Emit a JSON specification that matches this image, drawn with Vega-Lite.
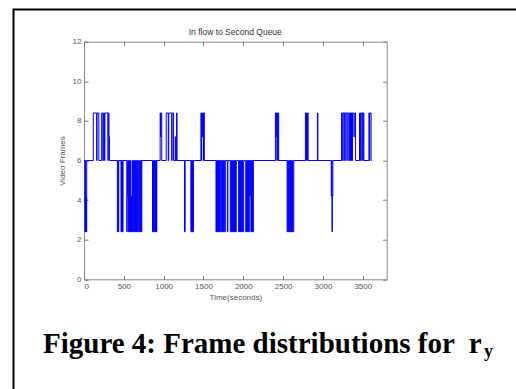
{
  "$schema": "https://vega.github.io/schema/vega-lite/v6.json",
  "width": 302.7,
  "height": 237.6,
  "autosize": "none",
  "padding": {"left": 84, "top": 41.7, "right": 129.3, "bottom": 109.7},
  "background": "white",
  "config": {
    "view": {"stroke": "#888888", "strokeWidth": 1},
    "axis": {"labelFont": "Liberation Sans", "labelFontSize": 8, "labelColor": "#555555", "tickColor": "#777777", "domainColor": "#888888", "grid": false, "tickSize": -4, "labelPadding": 7, "titleFont": "Liberation Sans", "titleFontSize": 8, "titleFontWeight": "normal", "titleColor": "#555555", "format": "d"}
  },
  "layer": [
    {
      "data": {"values": [
        {"t":0,"v":6},{"t":12,"v":2.4},{"t":16,"v":6},{"t":20,"v":2.4},{"t":24,"v":4.2},{"t":28,"v":2.4},{"t":34,"v":6},
        {"t":117,"v":8.4},{"t":158,"v":6},{"t":164,"v":8.4},{"t":186,"v":6},
        {"t":222,"v":8.4},{"t":236,"v":6},{"t":246,"v":8.4},{"t":258,"v":6},{"t":262,"v":8.4},{"t":300,"v":6},{"t":304,"v":8.4},{"t":314,"v":7.2},{"t":320,"v":6},
        {"t":419,"v":2.4},{"t":424,"v":6},{"t":428,"v":2.4},{"t":436,"v":6},
        {"t":465,"v":2.4},{"t":470,"v":6},{"t":474,"v":2.4},{"t":480,"v":6},{"t":484,"v":2.4},{"t":490,"v":6},
        {"t":537,"v":2.4},{"t":542,"v":4.2},{"t":547,"v":6},
        {"t":558,"v":2.4},{"t":566,"v":6},{"t":572,"v":2.4},{"t":580,"v":6},{"t":586,"v":2.4},{"t":592,"v":4.2},{"t":596,"v":2.4},{"t":604,"v":6},{"t":610,"v":2.4},{"t":618,"v":6},{"t":624,"v":2.4},{"t":632,"v":6},{"t":638,"v":2.4},{"t":646,"v":6},{"t":652,"v":2.4},{"t":660,"v":6},{"t":666,"v":2.4},{"t":674,"v":6},{"t":680,"v":2.4},{"t":688,"v":6},{"t":694,"v":2.4},{"t":702,"v":6},{"t":708,"v":2.4},{"t":716,"v":6},{"t":720,"v":2.4},{"t":726,"v":6},
        {"t":860,"v":2.4},{"t":866,"v":6},{"t":872,"v":2.4},{"t":880,"v":6},{"t":886,"v":2.4},{"t":894,"v":6},{"t":900,"v":2.4},{"t":908,"v":6},{"t":910,"v":2.4},{"t":914,"v":6},
        {"t":956,"v":8.4},{"t":962,"v":7.2},{"t":966,"v":8.4},{"t":976,"v":6},
        {"t":1032,"v":8.4},{"t":1058,"v":6},{"t":1064,"v":8.4},{"t":1100,"v":6},{"t":1106,"v":8.4},{"t":1124,"v":6},{"t":1145,"v":7.2},{"t":1150,"v":6},{"t":1162,"v":8.4},{"t":1168,"v":6},
        {"t":1262,"v":2.4},{"t":1270,"v":6},
        {"t":1342,"v":2.4},{"t":1348,"v":6},{"t":1352,"v":2.4},{"t":1360,"v":6},{"t":1364,"v":2.4},{"t":1375,"v":6},
        {"t":1468,"v":8.4},{"t":1474,"v":6},{"t":1478,"v":8.4},{"t":1484,"v":7.2},{"t":1490,"v":8.4},{"t":1500,"v":6},{"t":1504,"v":8.4},{"t":1510,"v":6},
        {"t":1657,"v":2.4},{"t":1663,"v":6},{"t":1668,"v":2.4},{"t":1675,"v":6},{"t":1680,"v":2.4},{"t":1688,"v":6},{"t":1693,"v":2.4},{"t":1700,"v":6},{"t":1704,"v":2.4},{"t":1711,"v":6},
        {"t":1723,"v":2.4},{"t":1730,"v":6},{"t":1736,"v":2.4},{"t":1744,"v":6},{"t":1750,"v":2.4},{"t":1758,"v":6},{"t":1762,"v":2.4},{"t":1774,"v":6},
        {"t":1800,"v":2.4},{"t":1806,"v":6},
        {"t":1837,"v":2.4},{"t":1845,"v":6},{"t":1850,"v":2.4},{"t":1858,"v":6},{"t":1863,"v":2.4},{"t":1871,"v":6},{"t":1876,"v":2.4},{"t":1884,"v":6},{"t":1889,"v":2.4},{"t":1897,"v":6},{"t":1902,"v":2.4},{"t":1912,"v":6},
        {"t":1941,"v":2.4},{"t":1949,"v":6},{"t":1954,"v":2.4},{"t":1962,"v":6},{"t":1967,"v":2.4},{"t":1975,"v":6},{"t":1980,"v":2.4},{"t":1988,"v":6},{"t":1993,"v":2.4},{"t":2004,"v":6},
        {"t":2030,"v":2.4},{"t":2038,"v":6},{"t":2043,"v":2.4},{"t":2051,"v":6},{"t":2056,"v":2.4},{"t":2064,"v":6},{"t":2068,"v":2.4},{"t":2075,"v":6},{"t":2082,"v":4.2},{"t":2088,"v":6},{"t":2095,"v":2.4},{"t":2103,"v":6},{"t":2108,"v":2.4},{"t":2116,"v":6},{"t":2120,"v":2.4},{"t":2126,"v":6},
        {"t":2403,"v":8.4},{"t":2410,"v":7.2},{"t":2414,"v":8.4},{"t":2422,"v":6},{"t":2426,"v":8.4},{"t":2434,"v":6},{"t":2438,"v":8.4},{"t":2444,"v":6},
        {"t":2550,"v":2.4},{"t":2558,"v":6},{"t":2562,"v":2.4},{"t":2570,"v":6},{"t":2574,"v":2.4},{"t":2582,"v":6},{"t":2586,"v":2.4},{"t":2594,"v":6},{"t":2598,"v":2.4},{"t":2606,"v":6},{"t":2610,"v":2.4},{"t":2618,"v":6},{"t":2622,"v":2.4},{"t":2633,"v":6},
        {"t":2780,"v":8.4},{"t":2788,"v":6},{"t":2792,"v":8.4},{"t":2800,"v":6},{"t":2804,"v":8.4},{"t":2814,"v":6},
        {"t":2930,"v":8.4},{"t":2936,"v":6},
        {"t":3104,"v":4.2},{"t":3109,"v":6},{"t":3113,"v":2.4},{"t":3118,"v":4.2},{"t":3124,"v":6},
        {"t":3233,"v":8.4},{"t":3238,"v":6},{"t":3242,"v":8.4},{"t":3262,"v":6},{"t":3266,"v":8.4},{"t":3275,"v":6},{"t":3279,"v":8.4},{"t":3300,"v":6},{"t":3304,"v":8.4},{"t":3325,"v":6},{"t":3329,"v":8.4},{"t":3336,"v":6},{"t":3340,"v":8.4},{"t":3346,"v":6},{"t":3350,"v":8.4},{"t":3358,"v":6},{"t":3362,"v":8.4},{"t":3367,"v":6},{"t":3371,"v":8.4},{"t":3388,"v":7.2},{"t":3400,"v":8.4},{"t":3409,"v":6},
        {"t":3459,"v":8.4},{"t":3466,"v":6},{"t":3470,"v":8.4},{"t":3488,"v":6},{"t":3492,"v":8.4},{"t":3502,"v":6},{"t":3506,"v":8.4},{"t":3514,"v":6},
        {"t":3577,"v":8.4},{"t":3584,"v":6},{"t":3588,"v":8.4},{"t":3604,"v":6},{"t":3611,"v":6}
      ]},
      "mark": {"type": "line", "interpolate": "step-after", "color": "#0000ff", "strokeWidth": 1},
      "encoding": {
        "x": {"field": "t", "type": "quantitative", "scale": {"domain": [0, 3800], "nice": false, "zero": false}, "axis": {"orient": "bottom", "values": [0,500,1000,1500,2000,2500,3000,3500], "title": "Time(seconds)", "titlePadding": 3, "domain": false}},
        "y": {"field": "v", "type": "quantitative", "scale": {"domain": [0, 12], "nice": false, "zero": false}, "axis": {"orient": "left", "values": [0,2,4,6,8,10,12], "title": "Video Frames", "titlePadding": 6, "domain": false}}
      }
    },
    {
      "data": {"values": [{}]},
      "mark": {"type": "point", "opacity": 0},
      "encoding": {
        "x": {"datum": 0, "type": "quantitative", "scale": {"domain": [0, 3800], "nice": false, "zero": false}, "axis": {"orient": "top", "values": [0,500,1000,1500,2000,2500,3000,3500], "labels": false, "title": null, "domain": false}},
        "y": {"datum": 0, "type": "quantitative", "scale": {"domain": [0, 12], "nice": false, "zero": false}, "axis": {"orient": "right", "values": [0,2,4,6,8,10,12], "labels": false, "title": null, "domain": false}}
      }
    },
    {
      "data": {"values": [{}]},
      "mark": {"type": "rect", "fillOpacity": 0, "stroke": "black", "strokeWidth": 2},
      "encoding": {
        "x": {"datum": -885, "type": "quantitative", "axis": null},
        "x2": {"datum": 5600},
        "y": {"datum": 13.63, "type": "quantitative", "axis": null},
        "y2": {"datum": -6}
      }
    },
    {
      "data": {"values": [{"label": "In flow to Second Queue"}]},
      "mark": {"type": "text", "font": "Liberation Sans", "fontSize": 8.5, "align": "center", "baseline": "middle", "color": "#333333"},
      "encoding": {
        "x": {"datum": 1899, "type": "quantitative", "axis": null},
        "y": {"datum": 12.48, "type": "quantitative", "axis": null},
        "text": {"field": "label"}
      }
    },
    {
      "data": {"values": [{"label": "Figure 4: Frame distributions for \u00a0r"}]},
      "mark": {"type": "text", "font": "Liberation Serif", "fontWeight": "bold", "fontSize": 29, "align": "left", "baseline": "alphabetic", "color": "black"},
      "encoding": {
        "x": {"datum": -515, "type": "quantitative", "axis": null},
        "y": {"datum": -3.72, "type": "quantitative", "axis": null},
        "text": {"field": "label"}
      }
    },
    {
      "data": {"values": [{"label": "y"}]},
      "mark": {"type": "text", "font": "Liberation Serif", "fontWeight": "bold", "fontSize": 18, "align": "left", "baseline": "alphabetic", "color": "black"},
      "encoding": {
        "x": {"datum": 5022, "type": "quantitative", "axis": null},
        "y": {"datum": -3.92, "type": "quantitative", "axis": null},
        "text": {"field": "label"}
      }
    }
  ],
  "resolve": {"axis": {"x": "independent", "y": "independent"}}
}
